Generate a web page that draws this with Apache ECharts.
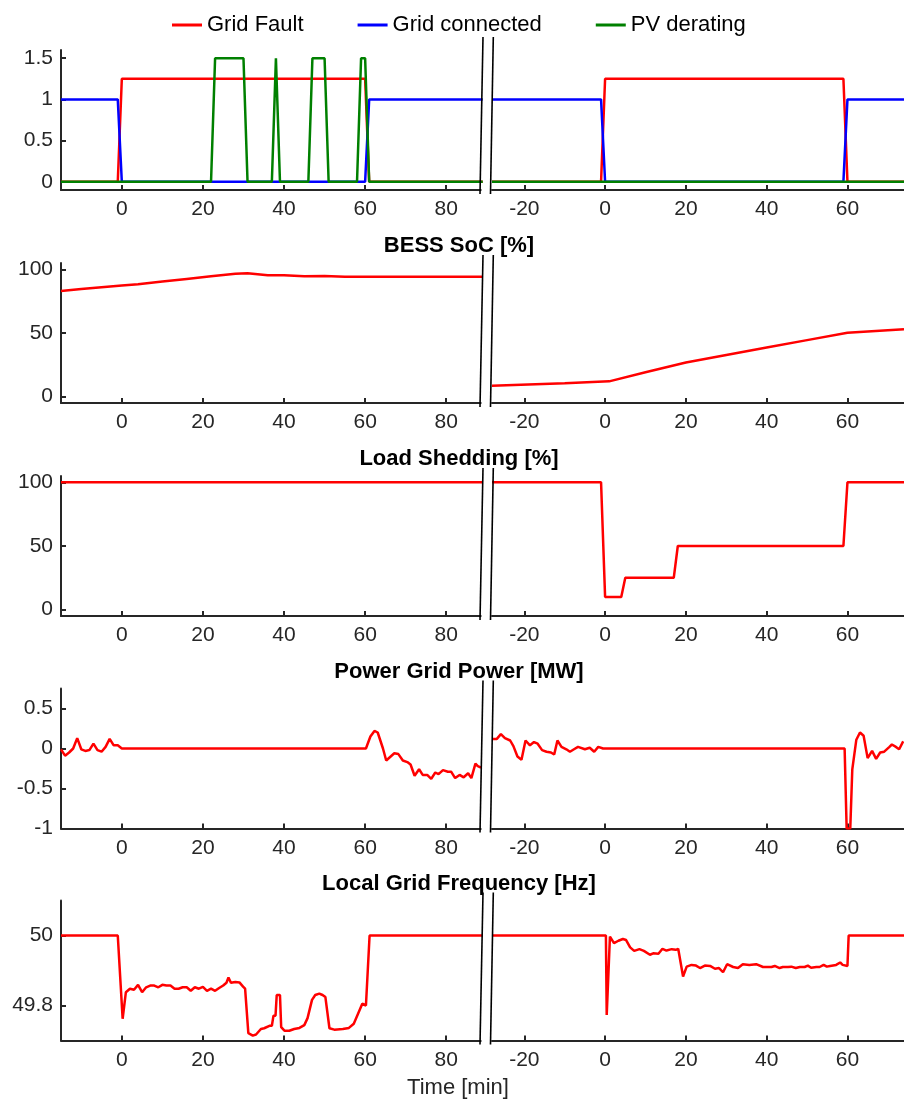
<!DOCTYPE html>
<html>
<head>
<meta charset="utf-8">
<script src="https://cdn.jsdelivr.net/npm/echarts@6/dist/echarts.min.js"></script>
<style>
  html, body { margin: 0; padding: 0; background: #ffffff; }
  #chart { width: 904px; height: 1103px; }
</style>
</head>
<body>
<div id="chart"></div>
<script>
// ---- Time axes (minutes); left = first event, right = second event ----
const leftRange = [-15, 88.5];
const rightRange = [-28, 74];
const leftTicks = [0, 20, 40, 60, 80];
const rightTicks = [-20, 0, 20, 40, 60];

// ---- Panel titles and y scales ----
const rowTitles = ['', 'BESS SoC [%]', 'Load Shedding [%]', 'Power Grid Power [MW]', 'Local Grid Frequency [Hz]'];
const yRanges = [[-0.1, 1.6], [-5, 105], [-5, 105], [-1, 0.75], [49.7, 50.1]];
const yTicks = [[0, 0.5, 1, 1.5], [0, 50, 100], [0, 50, 100], [-1, -0.5, 0, 0.5], [49.8, 50]];
const legendNames = ['Grid Fault', 'Grid connected', 'PV derating'];

// ---- Status signals [t, value] ----
const faultLeft = [[-15, 0], [-1, 0], [0, 1.25], [60, 1.25], [61, 0], [89, 0]];
const faultRight = [[-28, 0], [-1, 0], [0, 1.25], [59, 1.25], [60, 0], [74, 0]];
const connectedLeft = [[-15, 1], [-1, 1], [0, 0], [60, 0], [61, 1], [89, 1]];
const connectedRight = [[-28, 1], [-1, 1], [0, 0], [59, 0], [60, 1], [74, 1]];
const deratingLeft = [[-15, 0], [22, 0], [23, 1.5], [30, 1.5], [31, 0], [37, 0], [38, 1.5], [39, 0],
  [46, 0], [47, 1.5], [50, 1.5], [51, 0], [58, 0], [59, 1.5], [60, 1.5], [61, 0], [89, 0]];
const deratingRight = [[-28, 0], [74, 0]];

// ---- BESS state of charge [%] ----
const socLeft = [[-15, 83], [-10, 84.5], [-5, 86], [0, 87.4], [4, 88.3], [10, 90.4], [16, 92.5],
  [22, 94.6], [28, 96.6], [31, 97], [36, 95.4], [40, 95.3], [45, 94.6], [50, 94.8], [55, 94.2],
  [60, 94.2], [70, 94.2], [89, 94.1]];
const socRight = [[-28, 8.6], [-10, 10.6], [1, 12], [10, 19.2], [20, 26.8], [30, 32.7], [40, 38.6],
  [50, 44.4], [60, 50.2], [74, 53]];

// ---- Load shedding [%] ----
const loadLeft = [[-15, 100], [89, 100]];
const loadRight = [[-28, 100], [-1, 100], [0, 10], [4, 10], [5, 25], [17, 25], [18, 50], [59, 50],
  [60, 100], [74, 100]];

// ---- Power exchanged with the grid [MW] ----
const powerLeft = [[-15, -0.01], [-14, -0.09], [-13, -0.05], [-12, 0], [-11, 0.13], [-10, -0.01],
  [-9, -0.03], [-8, -0.02], [-7, 0.06], [-6, -0.02], [-5, -0.04], [-4, 0.02], [-3, 0.12],
  [-2, 0.04], [-1, 0.04], [0, 0], [60.2, 0], [61.3, 0.15], [62.3, 0.22], [63.1, 0.2], [64.4, 0],
  [65.2, -0.15], [66.3, -0.1], [67.2, -0.06], [68.2, -0.07], [69.3, -0.15], [70.4, -0.17],
  [71.2, -0.2], [72.2, -0.34], [73.3, -0.26], [74.2, -0.33], [75.3, -0.33], [76.3, -0.38],
  [77.3, -0.3], [78.1, -0.32], [79.2, -0.27], [80.4, -0.29], [81.2, -0.29], [82.2, -0.37],
  [83.3, -0.33], [84.3, -0.36], [85.4, -0.31], [86.2, -0.37], [87.2, -0.19], [87.8, -0.22],
  [88.6, -0.24]];
const powerRight = [[-28, 0.12], [-26.8, 0.12], [-25.8, 0.18], [-24.8, 0.13], [-23.5, 0.1],
  [-22.7, 0.03], [-21.7, -0.1], [-20.7, -0.14], [-19.7, 0.1], [-18.6, 0.04], [-17.6, 0.08],
  [-16.7, 0.06], [-15.6, -0.02], [-14.5, -0.04], [-13.4, -0.05], [-12.6, -0.075], [-11.8, 0.1],
  [-10.8, 0.02], [-9.6, -0.01], [-8.7, -0.04], [-7.7, -0.01], [-6.7, 0.02], [-5, -0.01],
  [-3.8, 0.01], [-2.7, -0.04], [-1.7, 0.02], [-0.5, 0], [59.3, 0], [59.8, -1], [60.7, -1],
  [61.2, -0.26], [62.2, 0.11], [63.1, 0.2], [64, 0.16], [65, -0.12], [66.1, -0.03], [67.1, -0.13],
  [68.1, -0.05], [69.1, -0.04], [70.4, 0.02], [71, 0.05], [72, 0.02], [72.8, -0.01], [73.8, 0.09]];

// ---- Local grid frequency [Hz] ----
const freqLeft = [[-15, 50], [-1, 50], [0.2, 49.762], [1, 49.838], [2, 49.848], [3, 49.845],
  [4, 49.859], [5, 49.838], [6, 49.852], [7, 49.857], [8, 49.857], [9, 49.852], [10, 49.859],
  [11, 49.857], [12, 49.857], [13, 49.848], [14, 49.848], [15, 49.852], [16, 49.852], [17, 49.842],
  [18, 49.852], [19, 49.848], [20, 49.853], [21, 49.842], [22, 49.848], [23, 49.842], [24, 49.85],
  [25, 49.857], [25.8, 49.865], [26.3, 49.88], [26.9, 49.865], [28, 49.867], [29, 49.866],
  [29.9, 49.854], [30.4, 49.848], [31.2, 49.721], [32.3, 49.714], [33.1, 49.717], [34.3, 49.733],
  [35.1, 49.735], [36.4, 49.742], [37, 49.742], [37.4, 49.771], [37.9, 49.771], [38.2, 49.83],
  [39, 49.83], [39.3, 49.738], [40.1, 49.728], [41.3, 49.728], [42.5, 49.733], [43.8, 49.736],
  [45, 49.744], [45.8, 49.764], [46.9, 49.816], [47.7, 49.83], [48.7, 49.834], [49.5, 49.83],
  [50.2, 49.824], [51.2, 49.735], [52.4, 49.731], [54.5, 49.733], [56, 49.736], [57.2, 49.748],
  [58.2, 49.775], [59.3, 49.805], [60.2, 49.8], [61.1, 50], [89, 50]];
const freqRight = [[-28, 50], [0.2, 50], [0.4, 49.773], [1.2, 49.997], [2.2, 49.978], [3.3, 49.985],
  [4.4, 49.99], [5.2, 49.987], [6.2, 49.966], [7.2, 49.956], [8.5, 49.961], [9.6, 49.956],
  [11.1, 49.945], [11.9, 49.949], [13.2, 49.948], [14.2, 49.962], [15.2, 49.957], [16.5, 49.961],
  [17.5, 49.959], [18.1, 49.962], [19.3, 49.883], [20.2, 49.911], [21.4, 49.916], [22.5, 49.914],
  [23.5, 49.907], [24.7, 49.914], [26, 49.913], [27.2, 49.905], [28.2, 49.907], [29.2, 49.895],
  [30.2, 49.918], [31.7, 49.91], [32.9, 49.907], [34.1, 49.918], [35.7, 49.916], [37.4, 49.918],
  [39.1, 49.91], [41.2, 49.91], [42, 49.913], [43.2, 49.907], [44, 49.91], [45.3, 49.91],
  [46.1, 49.911], [47.2, 49.907], [48.2, 49.91], [49.4, 49.91], [50.2, 49.914], [51, 49.908],
  [52.3, 49.91], [53.1, 49.91], [54.1, 49.916], [54.9, 49.911], [55.7, 49.913], [57.2, 49.916],
  [58.2, 49.923], [58.8, 49.916], [60, 49.913], [60.3, 50], [74, 50]];

// ---- Layout ----
const FONT = "'Liberation Sans', Arial, Helvetica, sans-serif";
const AXIS_COLOR = '#262626';
const rowTops = [50, 263, 476, 688.5, 900.5];
const rowHeight = 140;
const leftGrid = { left: 61, width: 419.7 };
const rightGrid = { left: 492, width: 413.6 };

const RED = '#ff0000', BLUE = '#0000ff', GREEN = '#008000';
const rowSeries = [
  [
    [{ name: 'Grid Fault', color: RED, data: faultLeft }, { name: 'Grid connected', color: BLUE, data: connectedLeft }, { name: 'PV derating', color: GREEN, data: deratingLeft }],
    [{ name: 'Grid Fault', color: RED, data: faultRight }, { name: 'Grid connected', color: BLUE, data: connectedRight }, { name: 'PV derating', color: GREEN, data: deratingRight }]
  ],
  [[{ name: 'BESS SoC', color: RED, data: socLeft }], [{ name: 'BESS SoC', color: RED, data: socRight }]],
  [[{ name: 'Load Shedding', color: RED, data: loadLeft }], [{ name: 'Load Shedding', color: RED, data: loadRight }]],
  [[{ name: 'Power Grid Power', color: RED, data: powerLeft }], [{ name: 'Power Grid Power', color: RED, data: powerRight }]],
  [[{ name: 'Local Grid Frequency', color: RED, data: freqLeft }], [{ name: 'Local Grid Frequency', color: RED, data: freqRight }]]
];

const grids = [], xAxes = [], yAxes = [], series = [], graphics = [];

rowTops.forEach((top, r) => {
  [0, 1].forEach(side => {
    const idx = r * 2 + side;
    const g = side === 0 ? leftGrid : rightGrid;
    grids.push({ left: g.left, width: g.width, top: top, height: rowHeight, containLabel: false });
    const range = side === 0 ? leftRange : rightRange;
    xAxes.push({
      type: 'value', gridIndex: idx, min: range[0], max: range[1],
      axisLine: { show: true, onZero: false, lineStyle: { color: AXIS_COLOR, width: 2 } },
      axisTick: { show: true, inside: true, length: 5, lineStyle: { color: AXIS_COLOR, width: 2 },
        customValues: side === 0 ? leftTicks : rightTicks },
      axisLabel: { show: true, color: AXIS_COLOR, fontFamily: FONT, fontSize: 21, margin: 9,
        customValues: side === 0 ? leftTicks : rightTicks },
      splitLine: { show: false }
    });
    yAxes.push({
      type: 'value', gridIndex: idx, min: yRanges[r][0], max: yRanges[r][1],
      axisLine: { show: side === 0, onZero: false, lineStyle: { color: AXIS_COLOR, width: 2 } },
      axisTick: { show: side === 0, inside: true, length: 5, lineStyle: { color: AXIS_COLOR, width: 2 },
        customValues: yTicks[r] },
      axisLabel: { show: side === 0, color: AXIS_COLOR, fontFamily: FONT, fontSize: 21, margin: 8,
        customValues: yTicks[r] },
      splitLine: { show: false }
    });
    rowSeries[r][side].forEach(s => {
      series.push({
        type: 'line', name: s.name, xAxisIndex: idx, yAxisIndex: idx, data: s.data,
        showSymbol: false, symbol: 'none', clip: true,
        lineStyle: { color: s.color, width: 2.5 }, itemStyle: { color: s.color },
        animation: false
      });
    });
  });

  // axis-break marks between the two panels
  const yTop = top - (r === 0 ? 13 : 8);
  const yBot = top + rowHeight + 4;
  [[483, 480], [493.3, 490.5]].forEach(([xt, xb]) => {
    graphics.push({
      type: 'line', z: 100,
      shape: { x1: xt, y1: yTop, x2: xb, y2: yBot },
      style: { stroke: '#000000', lineWidth: 1.6 }
    });
  });

  if (rowTitles[r]) {
    graphics.push({
      type: 'text', z: 100,
      style: { text: rowTitles[r], x: 459, y: top - 17, align: 'center', verticalAlign: 'middle',
        font: 'bold 22px ' + FONT, fill: '#000000' }
    });
  }
});

graphics.push({
  type: 'text', z: 100,
  style: { text: 'Time [min]', x: 458, y: 1088, align: 'center', verticalAlign: 'middle',
    font: '22px ' + FONT, fill: AXIS_COLOR }
});

const chart = echarts.init(document.getElementById('chart'), null, { renderer: 'canvas' });
chart.setOption({
  backgroundColor: '#ffffff',
  animation: false,
  legend: {
    data: legendNames, left: 167, top: 9, icon: 'rect', itemWidth: 30, itemHeight: 3,
    itemGap: 54, textStyle: { fontFamily: FONT, fontSize: 22, color: '#000000' }
  },
  grid: grids,
  xAxis: xAxes,
  yAxis: yAxes,
  series: series,
  graphic: graphics
});
</script>
</body>
</html>
